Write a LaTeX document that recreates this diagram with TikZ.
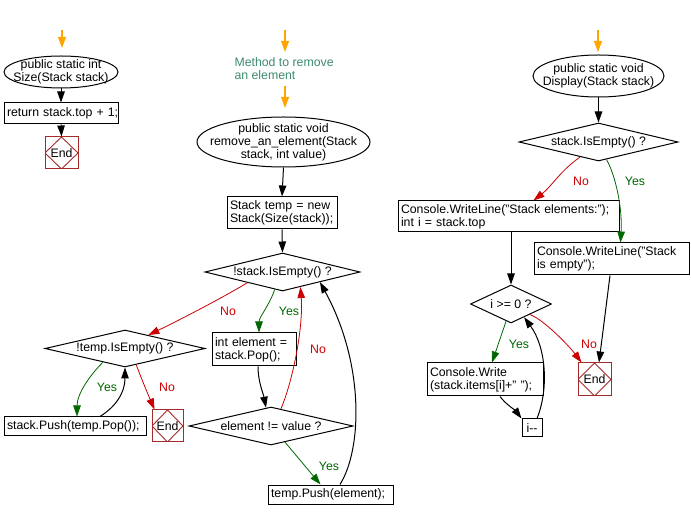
\documentclass[tikz,border=0pt]{standalone}
\usepackage{fontspec}
\setmainfont{Liberation Sans}
\usetikzlibrary{shapes.geometric,arrows.meta,calc}
\definecolor{endred}{HTML}{A52A2A}
\definecolor{nored}{HTML}{CC0000}
\definecolor{yesgreen}{HTML}{006600}
\definecolor{orangec}{HTML}{FFA500}
\definecolor{commentc}{HTML}{3D8B6D}
\begin{document}
\begin{tikzpicture}[x=1pt,y=-1pt,
  every node/.style={font=\fontsize{12.3}{13}\selectfont},
  box/.style={draw, rectangle, line width=1pt, inner xsep=3pt, inner ysep=0pt, align=left},
  oval/.style={draw, ellipse, line width=1pt, inner sep=0pt},
  dia/.style={draw, diamond, line width=1pt, inner sep=0pt},
  endbox/.style={draw=endred, rectangle, line width=1pt, inner sep=0pt,
    path picture={\draw[endred, line width=0.9pt] (path picture bounding box.north) -- (path picture bounding box.east) -- (path picture bounding box.south) -- (path picture bounding box.west) -- cycle;}},
  arr/.style={line width=1pt, -{Triangle[length=11pt,width=7.5pt]}},
  noarr/.style={draw=nored, line width=0.8pt, -{Triangle[length=11pt,width=7.5pt,fill=nored]}},
  yesarr/.style={draw=yesgreen, line width=0.8pt, -{Triangle[length=11pt,width=7.5pt,fill=yesgreen]}},
  oarr/.style={draw=orangec, line width=1.2pt, -{Triangle[length=11pt,width=8pt,fill=orangec]}},
  nolab/.style={text=nored},
  yeslab/.style={text=yesgreen}
]
\path[use as bounding box] (0,0) rectangle (691,518);

% ---------- left column ----------
\coordinate (o1a) at (62,30);
\coordinate (o1b) at (62,48);
\node[oval, minimum width=114pt, minimum height=32pt] (e1) at (61,72) {};
\node[align=center] (e1t) at (e1.center) {public static int\\Size(Stack stack)};
\node[box, minimum width=114pt, minimum height=21pt, text width=108pt] (b1) at (61,113.5) {return~stack.top~+~1;};
\node[endbox, minimum width=33pt, minimum height=32pt] (end1) at (61.5,153) {End};

\draw[oarr] (o1a) -- (o1b);
\draw[arr] (e1.south) -- (b1.north);
\draw[arr] (b1.south) -- (end1.north);

% ---------- middle column ----------
\coordinate (o2a) at (285,30);
\coordinate (o2b) at (285,52);
\coordinate (o3a) at (285,86);
\coordinate (o3b) at (285,108);
\node[anchor=west, align=left, text=commentc] (cm) at (231,69) {Method to remove\\an element};
\node[oval, minimum width=173pt, minimum height=50pt] (e2) at (283.5,142) {};
\node[align=center] (e2t) at (e2.center) {public static void\\remove\_an\_element(Stack\\stack, int value)};
\node[box, minimum width=110pt, minimum height=32pt, text width=104pt] (b2) at (282,213) {Stack temp = new\\Stack(Size(stack));};
\node[dia, minimum width=155pt, minimum height=38pt] (d1) at (282.5,272) {};
\node (d1t) at (d1.center) {!stack.IsEmpty() ?};
\node[dia, minimum width=160pt, minimum height=37pt] (d2) at (125,348.5) {};
\node (d2t) at (d2.center) {!temp.IsEmpty() ?};
\node[box, minimum width=84pt, minimum height=33pt, text width=78pt] (b3) at (254,349.5) {int element =\\stack.Pop();};
\node[box, minimum width=142pt, minimum height=19pt, text width=136pt] (b4) at (75,426.5) {stack.Push(temp.Pop());};
\node[endbox, minimum width=31pt, minimum height=32pt] (end2) at (167.5,426) {End};
\node[dia, minimum width=164pt, minimum height=38pt] (d3) at (271,426) {};
\node (d3t) at (d3.center) {element != value ?};
\node[box, minimum width=125pt, minimum height=19pt, text width=119pt] (b5) at (330.5,494.5) {temp.Push(element);};

\draw[oarr] (o2a) -- (o2b);
\draw[oarr] (o3a) -- (o3b);
\draw[arr] (e2.south) -- (b2.north);
\draw[arr] (b2.south) -- (d1.north);
\draw[noarr] ($(d1.west)!0.55!(d1.south)$) .. controls +(-30,18) and +(25,-12) .. ($(d2.north)!0.29!(d2.east)$);
\node[nolab] (l1) at (228,311) {No};
\draw[yesarr] ($(d1.south)!0.1!(d1.west)$) .. controls +(-5,15) and +(0,-15) .. ([xshift=5pt]b3.north);
\node[yeslab] (l2) at (289,311) {Yes};
\draw[yesarr] ($(d2.south)!0.275!(d2.west)$) .. controls +(-14,14) and +(0,-22) .. ([xshift=2pt]b4.north);
\node[yeslab] (l3) at (107,387) {Yes};
\draw[arr] ([xshift=25pt]b4.north) .. controls +(16,-10) and +(0,25) .. (d2.south);
\draw[noarr] ($(d2.south)!0.14!(d2.east)$) .. controls +(6,16) and +(-6,-14) .. ([xshift=-13pt]end2.north);
\node[nolab] (l4) at (167,387) {No};
\draw[arr] ([xshift=4pt]b3.south) .. controls +(0,15) and +(-3,-15) .. ($(d3.north)!0.06!(d3.west)$);
\draw[noarr] ($(d3.north)!0.12!(d3.east)$) .. controls +(12,-28) and +(3,40) .. ($(d1.south)!0.23!(d1.east)$);
\node[nolab] (l5) at (318,349) {No};
\draw[yesarr] ($(d3.south)!0.17!(d3.east)$) -- ([xshift=-10pt]b5.north);
\node[yeslab] (l6) at (329,466) {Yes};
\draw[arr] ([xshift=9.5pt]b5.north) .. controls +(22,-35) and +(45,82) .. ($(d1.south)!0.48!(d1.east)$);

% ---------- right column ----------
\coordinate (o4a) at (598,30);
\coordinate (o4b) at (598,52);
\node[oval, minimum width=131pt, minimum height=42pt] (e3) at (598.5,76) {};
\node[align=center] (e3t) at (e3.center) {public static void\\Display(Stack stack)};
\node[dia, minimum width=159pt, minimum height=38pt] (d4) at (598.5,142) {};
\node (d4t) at (d4.center) {stack.IsEmpty() ?};
\node[box, minimum width=221pt, minimum height=31pt, text width=215pt] (b6) at (508.5,216.5) {Console.WriteLine("Stack elements:");\\int i = stack.top};
\node[box, minimum width=155pt, minimum height=32pt, text width=149pt] (b7) at (611.5,259) {Console.WriteLine("Stack\\is empty");};
\node[dia, minimum width=81pt, minimum height=38pt] (d5) at (511,304) {};
\node (d5t) at (d5.center) {i >= 0 ?};
\node[endbox, minimum width=33pt, minimum height=33pt] (end3) at (594.5,379.5) {End};
\node[box, minimum width=116pt, minimum height=33pt, text width=110pt] (b8) at (485,379.5) {Console.Write\\(stack.items[i]+" ");};
\node[box, minimum width=20pt, minimum height=18pt, inner xsep=0pt, align=center] (b9) at (532,428) {i-{}-};

\draw[oarr] (o4a) -- (o4b);
\draw[arr] (e3.south) -- (d4.north);
\draw[noarr] ($(d4.south)!0.23!(d4.west)$) .. controls +(-20,14) and +(18,-14) .. ([xshift=25pt]b6.north);
\node[nolab] (l7) at (581,181) {No};
\draw[yesarr] ($(d4.south)!0.1!(d4.east)$) .. controls +(9,16) and +(2,-35) .. ([xshift=9pt]b7.north);
\node[yeslab] (l8) at (635,181) {Yes};
\draw[arr] (d5.north |- b6.south) -- (d5.north);
\draw[arr] ([xshift=-1.5pt]b7.south) -- ([xshift=4.5pt]end3.north);
\draw[yesarr] ($(d5.south)!0.12!(d5.west)$) -- ([xshift=7pt]b8.north);
\node[yeslab] (l9) at (519,344) {Yes};
\draw[noarr] ($(d5.south)!0.46!(d5.east)$) .. controls +(14,5) and +(-12,-16) .. ([xshift=-13pt]end3.north);
\node[nolab] (l10) at (589,344) {No};
\draw[arr] ([xshift=15pt]b8.south) .. controls +(6,8) and +(-6,-8) .. (b9.north west);
\draw[arr] ([xshift=5pt]b9.north) .. controls +(12,-30) and +(22,30) .. ($(d5.south)!0.32!(d5.east)$);
\end{tikzpicture}
\end{document}
